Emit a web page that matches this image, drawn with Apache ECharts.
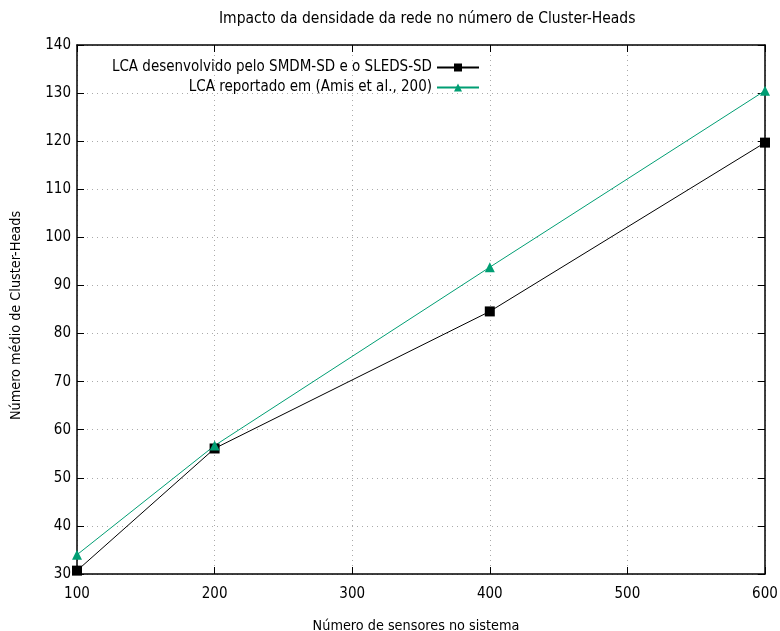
<!DOCTYPE html>
<html><head><meta charset="utf-8">
<script src="https://cdn.jsdelivr.net/npm/echarts@6/dist/echarts.min.js"></script>
<style>html,body{margin:0;padding:0;background:#fff}#c{width:780px;height:631px}</style>
</head><body><div id="c"></div>
<script>
const sensores = [100, 200, 400, 600];
const smdm = [30.7, 56.1, 84.6, 119.7];
const amis = [34.0, 56.7, 93.8, 130.5];
const seriesNames = ['LCA desenvolvido pelo SMDM-SD e o SLEDS-SD', 'LCA reportado em (Amis et al., 200)'];
const FONT = '"DejaVu Sans Condensed", "DejaVu Sans", sans-serif';
const chart = echarts.init(document.getElementById('c'), null, {renderer: 'canvas'});
const axisCommon = {
  axisLine: {show: true, lineStyle: {color: '#000', width: 1.5}},
  axisTick: {show: true, inside: true, length: 7, lineStyle: {color: '#000', width: 1}}
};
chart.setOption({
  animation: false,
  textStyle: {fontFamily: FONT},
  title: {text: 'Impacto da densidade da rede no número de Cluster-Heads', left: 214, top: 6,
    textStyle: {fontFamily: FONT, fontSize: 15.5, fontWeight: 'normal', color: '#000'}},
  grid: {left: 77, right: 15, top: 45, bottom: 57, containLabel: false, outerBoundsMode: 'none'},
  legend: {orient: 'vertical', right: 295, top: 55, align: 'right', itemGap: 5, itemWidth: 42, itemHeight: 10,
    textStyle: {fontFamily: FONT, fontSize: 15, color: '#000'},
    data: seriesNames},
  xAxis: [
    Object.assign({type: 'value', min: 100, max: 600, interval: 100, position: 'bottom',
      name: 'Número de sensores no sistema', nameLocation: 'middle', nameGap: 45,
      nameTextStyle: {fontFamily: FONT, fontSize: 14.3, color: '#000', padding: [0, 10, 0, 0]},
      axisLabel: {fontFamily: FONT, fontSize: 15, color: '#000', margin: 13},
      splitLine: {show: true, lineStyle: {color: '#aaa', type: [1, 4], width: 1}}}, axisCommon),
    Object.assign({type: 'value', min: 100, max: 600, interval: 100, position: 'top',
      axisLabel: {show: false}, splitLine: {show: false}}, axisCommon)
  ],
  yAxis: [
    Object.assign({type: 'value', min: 30, max: 140, interval: 10, position: 'left',
      name: 'Número médio de Cluster-Heads', nameLocation: 'middle', nameGap: 54,
      nameTextStyle: {fontFamily: FONT, fontSize: 14.3, color: '#000', padding: [0, 12, 0, 0]},
      axisLabel: {fontFamily: FONT, fontSize: 15, color: '#000', margin: 6},
      splitLine: {show: true, lineStyle: {color: '#aaa', type: [1, 4], width: 1}}}, axisCommon),
    Object.assign({type: 'value', min: 30, max: 140, interval: 10, position: 'right',
      axisLabel: {show: false}, splitLine: {show: false}}, axisCommon)
  ],
  series: [
    {name: seriesNames[0], type: 'line', data: sensores.map((x, i) => [x, smdm[i]]),
      symbol: 'rect', symbolSize: 10, lineStyle: {color: '#000', width: 1}, itemStyle: {color: '#000'}},
    {name: seriesNames[1], type: 'line', data: sensores.map((x, i) => [x, amis[i]]),
      symbol: 'triangle', symbolSize: 10, lineStyle: {color: '#009e73', width: 1}, itemStyle: {color: '#009e73'}}
  ]
});
</script></body></html>
